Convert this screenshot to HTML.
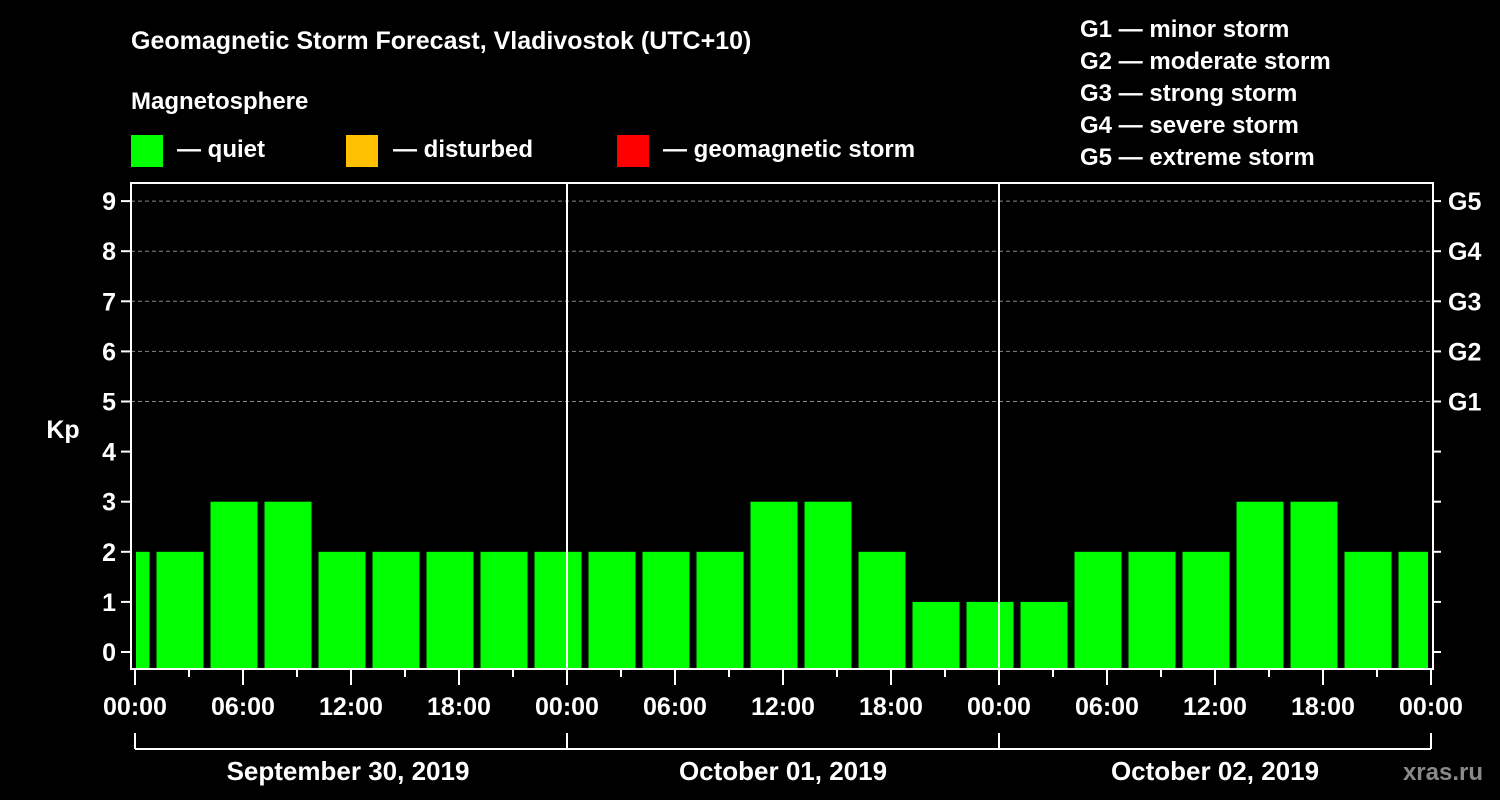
<!DOCTYPE html>
<html><head><meta charset="utf-8"><style>
html,body{margin:0;padding:0;background:#000;width:1500px;height:800px;overflow:hidden}
svg text{font-family:"Liberation Sans",Arial,sans-serif;font-weight:bold;fill:#fff}
</style></head><body>
<svg id="chart" width="1500" height="800" xmlns="http://www.w3.org/2000/svg">
<text x="131" y="49" font-size="25">Geomagnetic Storm Forecast, Vladivostok (UTC+10)</text>
<text x="131" y="109" font-size="24">Magnetosphere</text>
<g>
<rect x="131" y="135" width="32" height="32" fill="#00ff00"/>
<text x="177" y="157" font-size="24">— quiet</text>
<rect x="346" y="135" width="32" height="32" fill="#ffc000"/>
<text x="393" y="157" font-size="24">— disturbed</text>
<rect x="617" y="135" width="32" height="32" fill="#ff0000"/>
<text x="663" y="157" font-size="24">— geomagnetic storm</text>
</g>
<g font-size="24">
<text x="1080" y="37">G1 — minor storm</text>
<text x="1080" y="69">G2 — moderate storm</text>
<text x="1080" y="101">G3 — strong storm</text>
<text x="1080" y="133">G4 — severe storm</text>
<text x="1080" y="165">G5 — extreme storm</text>
</g>
<text x="63" y="438" font-size="25" text-anchor="middle">Kp</text>
<text x="1483" y="780" font-size="24" text-anchor="end" fill="#888" style="fill:#8a8a8a">xras.ru</text>
<g id="grid"></g><g id="bars"></g><g id="axes"></g>
</svg>
<script>
const kpValues=[2,2,3,3,2,2,2,2,2,2,2,2,3,3,2,1,1,1,2,2,2,3,3,2,2];
const startHourOffset=-2; // first interval starts 2h before plot start (UTC+10 shift)
const yTicks=[0,1,2,3,4,5,6,7,8,9];
const gLabels=["G1","G2","G3","G4","G5"];
const gLevels=[5,6,7,8,9];
const xTickLabels=["00:00","06:00","12:00","18:00","00:00","06:00","12:00","18:00","00:00","06:00","12:00","18:00","00:00"];
const dayLabels=["September 30, 2019","October 01, 2019","October 02, 2019"];
const NS="http://www.w3.org/2000/svg";
const L=131,R=1433,T=183,B=669,X0=135,HPX=18;
const xs=h=>X0+h*HPX;
const ys=v=>652-v*50.1;
function mk(p,tag,at){const e=document.createElementNS(NS,tag);for(const k in at)e.setAttribute(k,at[k]);p.appendChild(e);return e;}
const grid=document.getElementById('grid'),bars=document.getElementById('bars'),axes=document.getElementById('axes');
gLevels.forEach(v=>{const l=mk(grid,'line',{x1:L,x2:R,y1:ys(v),y2:ys(v),stroke:'#888','stroke-dasharray':'4,3','stroke-width':1});

});
kpValues.forEach((v,i)=>{let h0=startHourOffset+i*3,h1=h0+3;
let x0=xs(h0)+3.5,x1=xs(h1)-3.5;x0=Math.max(x0,L+5);x1=Math.min(x1,R-5);
const col=v>=5?'#ff0000':(v>=4?'#ffc000':'#00ff00');
const r=mk(bars,'rect',{x:x0,y:ys(v),width:x1-x0,height:B-ys(v),fill:col});

});
[1,2].forEach(d=>{const l=mk(axes,'line',{x1:xs(d*24),x2:xs(d*24),y1:T,y2:B,stroke:'#fff','stroke-width':2});

});
const fr=mk(axes,'rect',{x:L,y:T,width:R-L,height:B-T,fill:'none',stroke:'#fff','stroke-width':2});


yTicks.forEach(v=>{mk(axes,'line',{x1:L-10,x2:L,y1:ys(v),y2:ys(v),stroke:'#fff','stroke-width':2});
mk(axes,'line',{x1:R,x2:R+8,y1:ys(v),y2:ys(v),stroke:'#fff','stroke-width':2});
const t=mk(axes,'text',{x:L-15,y:ys(v)+9,'font-size':25,'text-anchor':'end'});t.textContent=v;

});
gLevels.forEach((v,i)=>{const t=mk(axes,'text',{x:R+15,y:ys(v)+9,'font-size':25});t.textContent=gLabels[i];

});
for(let h=0;h<=72;h+=3){const major=h%6===0;
mk(axes,'line',{x1:xs(h),x2:xs(h),y1:B,y2:major?685:677,stroke:'#fff','stroke-width':2});}
xTickLabels.forEach((s,i)=>{const t=mk(axes,'text',{x:xs(i*6),y:715,'font-size':25,'text-anchor':'middle'});t.textContent=s;

});
mk(axes,'line',{x1:xs(0),x2:xs(72),y1:749,y2:749,stroke:'#fff','stroke-width':2});
[0,1,2,3].forEach(d=>mk(axes,'line',{x1:xs(d*24),x2:xs(d*24),y1:733,y2:749,stroke:'#fff','stroke-width':2}));
dayLabels.forEach((s,i)=>{const t=mk(axes,'text',{x:xs(i*24+12)+(i==0?-3:0),y:780,'font-size':26,'text-anchor':'middle'});t.textContent=s;

});
</script>
</body></html>
